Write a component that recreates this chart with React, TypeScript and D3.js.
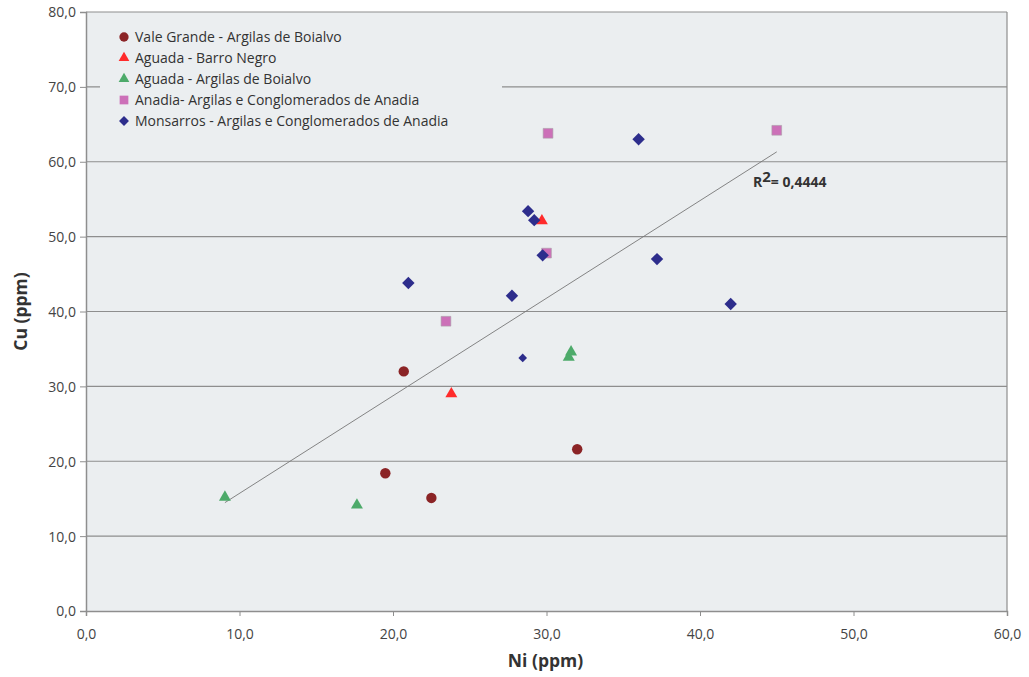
import React, { useEffect, useRef } from "react";
import * as d3 from "d3";

const xTicks = [0, 10, 20, 30, 40, 50, 60];
const yTicks = [0, 10, 20, 30, 40, 50, 60, 70, 80];

const valeGrande = [
  { x: 20.7, y: 32.0 },
  { x: 19.5, y: 18.4 },
  { x: 22.5, y: 15.1 },
  { x: 32.0, y: 21.6 },
];
const aguadaBarro = [
  { x: 23.8, y: 29.0 },
  { x: 29.7, y: 52.1 },
];
const aguadaBoialvo = [
  { x: 9.05, y: 15.2 },
  { x: 17.65, y: 14.15 },
  { x: 31.45, y: 33.9 },
  { x: 31.6, y: 34.6 },
];
const anadia = [
  { x: 30.1, y: 63.8 },
  { x: 45.0, y: 64.2 },
  { x: 30.0, y: 47.8 },
  { x: 23.45, y: 38.7 },
];
const monsarros = [
  { x: 36.0, y: 63.0, s: 1 },
  { x: 28.8, y: 53.4, s: 1 },
  { x: 29.2, y: 52.2, s: 1 },
  { x: 29.75, y: 47.5, s: 1 },
  { x: 21.0, y: 43.8, s: 1 },
  { x: 27.75, y: 42.1, s: 1 },
  { x: 28.45, y: 33.8, s: 0.7 },
  { x: 37.2, y: 47.0, s: 1 },
  { x: 42.0, y: 41.0, s: 1 },
];

const seriesNames = [
  "Vale Grande - Argilas de Boialvo",
  "Aguada - Barro Negro",
  "Aguada - Argilas de Boialvo",
  "Anadia- Argilas e Conglomerados de Anadia",
  "Monsarros - Argilas e Conglomerados de Anadia",
];
const seriesColors = ["#8B2426", "#FF2B2B", "#4DAA6A", "#CC70B8", "#2D2D8C"];
const seriesShapes = ["circle", "triangle", "triangle", "square", "diamond"];
const r2Label = "= 0,4444";

function shapePath(shape: string, s: number) {
  if (shape === "circle") return d3.symbol(d3.symbolCircle, 85 * s)()!;
  if (shape === "triangle") return d3.symbol(d3.symbolTriangle, 62 * s)()!;
  if (shape === "square") return d3.symbol(d3.symbolSquare, 95 * s)()!;
  return `M0,${-6.2 * s}L${6.2 * s},0L0,${6.2 * s}L${-6.2 * s},0Z`;
}

export default function App() {
  const ref = useRef<SVGSVGElement>(null);
  useEffect(() => {
    const svg = d3.select(ref.current);
    svg.selectAll("*").remove();
    const W = 1029, H = 677;
    const left = 86, right = 1007, top = 12, bottom = 611;
    const x = d3.scaleLinear().domain([0, 60]).range([left, right]);
    const y = d3.scaleLinear().domain([0, 80]).range([bottom, top]);
    const font = "'Open Sans', sans-serif";

    svg.append("rect").attr("width", W).attr("height", H).attr("fill", "#fff");
    svg.append("rect").attr("x", left).attr("y", top).attr("width", right - left)
      .attr("height", bottom - top).attr("fill", "#EBEEF0");

    // gridlines
    svg.append("g").selectAll("line").data(yTicks.filter(d => d > 0)).join("line")
      .attr("x1", left).attr("x2", right)
      .attr("y1", d => y(d)).attr("y2", d => y(d))
      .attr("stroke", "#8E8E8E").attr("stroke-width", 1.2);
    // right border
    svg.append("line").attr("x1", right).attr("x2", right).attr("y1", top).attr("y2", bottom)
      .attr("stroke", "#8E8E8E").attr("stroke-width", 1.2);

    // axes
    const fmt = (d: any) => d3.format(".1f")(d as number).replace(".", ",");
    const yAxis = d3.axisLeft(y).tickValues(yTicks).tickSize(6).tickFormat(fmt);
    const gy = svg.append("g").attr("transform", `translate(${left},0)`).call(yAxis);
    const xAxis = d3.axisBottom(x).tickValues(xTicks).tickSize(5).tickFormat(fmt);
    const gx = svg.append("g").attr("transform", `translate(0,${bottom})`).call(xAxis);
    [gx, gy].forEach(g => {
      g.select(".domain").attr("stroke", "#8E8E8E").attr("stroke-width", 1.5);
      g.selectAll(".tick line").attr("stroke", "#8E8E8E");
      g.selectAll("text").attr("fill", "#444").attr("font-size", 14).attr("font-family", font);
    });
    gy.selectAll("text").attr("x", -10).attr("dy", "0.35em");
    gx.selectAll("text").attr("y", 18);

    svg.append("text").attr("x", (left + right) / 2 - 1).attr("y", 667).attr("text-anchor", "middle")
      .attr("font-family", font).attr("font-weight", "bold").attr("font-size", 17.5).attr("fill", "#333")
      .text("Ni (ppm)");
    svg.append("text").attr("transform", `translate(27,${(top + bottom) / 2}) rotate(-90)`)
      .attr("text-anchor", "middle").attr("font-family", font).attr("font-weight", "bold")
      .attr("font-size", 17.5).attr("fill", "#333").text("Cu (ppm)");

    // legend background
    svg.append("rect").attr("x", 100).attr("y", 22).attr("width", 402).attr("height", 118).attr("fill", "#EBEEF0");

    // trendline via least squares
    const all = [...valeGrande, ...aguadaBarro, ...aguadaBoialvo, ...anadia, ...monsarros];
    const mx = d3.mean(all, d => d.x)!, my = d3.mean(all, d => d.y)!;
    const b = d3.sum(all, d => (d.x - mx) * (d.y - my)) / d3.sum(all, d => (d.x - mx) ** 2);
    const a = my - b * mx;
    const [xmin, xmax] = d3.extent(all, d => d.x) as [number, number];
    svg.append("line").attr("x1", x(xmin)).attr("y1", y(a + b * xmin))
      .attr("x2", x(xmax)).attr("y2", y(a + b * xmax)).attr("stroke", "#777").attr("stroke-width", 0.9);

    const series = [valeGrande, aguadaBarro, aguadaBoialvo, anadia, monsarros];
    series.forEach((data, i) => {
      svg.append("g").selectAll("path").data(data as any[]).join("path")
        .attr("transform", (d: any) => `translate(${x(d.x)},${y(d.y)})`)
        .attr("d", (d: any) => shapePath(seriesShapes[i], d.s ?? 1))
        .attr("fill", seriesColors[i])
        .attr("stroke", seriesShapes[i] === "square" ? "#A9A0A8" : "none")
        .attr("stroke-width", 0.6);
    });

    // legend
    const lg = svg.append("g");
    seriesNames.forEach((name, i) => {
      const yy = 37 + i * 21;
      lg.append("path").attr("transform", `translate(124,${yy})`)
        .attr("d", shapePath(seriesShapes[i], 0.8)).attr("fill", seriesColors[i]);
      lg.append("text").attr("x", 135).attr("y", yy).attr("dy", "0.35em")
        .attr("font-family", font).attr("font-size", 14).attr("fill", "#333").text(name);
    });

    const r2 = svg.append("text").attr("x", 753).attr("y", 187).attr("font-family", font)
      .attr("font-weight", "bold").attr("font-size", 14).attr("fill", "#333");
    r2.append("tspan").text("R");
    r2.append("tspan").attr("dy", -5).attr("font-size", 15).text("2");
    r2.append("tspan").attr("dy", 5).text(r2Label);
  }, []);
  return <svg ref={ref} width={1029} height={677} style={{ display: "block", position: "absolute", left: 0, top: 0 }} />;
}
